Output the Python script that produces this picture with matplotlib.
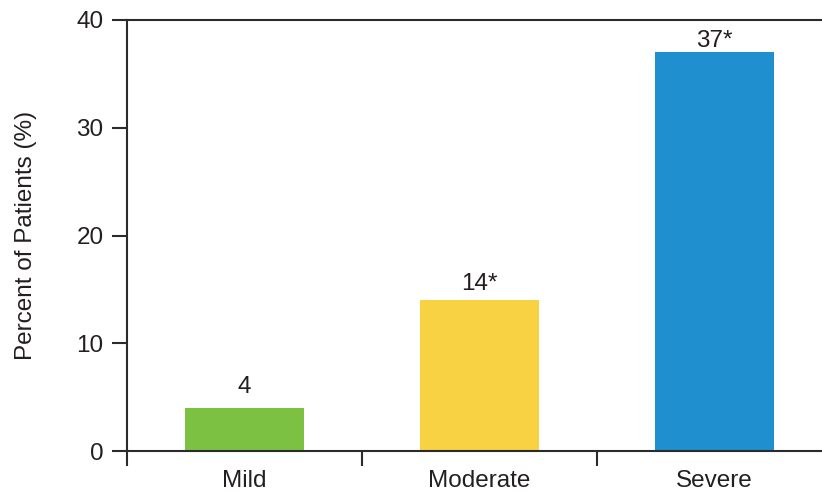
import matplotlib
matplotlib.use("Agg")
import matplotlib.pyplot as plt
import numpy as np

categories = ["Mild", "Moderate", "Severe"]
percents = [4, 14, 37]
bar_labels = ["4", "14*", "37*"]
colors = ["#7DC142", "#F9D244", "#1F8FCF"]
y_ticks = [0, 10, 20, 30, 40]

plt.rcParams["font.family"] = ["Liberation Sans", "DejaVu Sans"]
text_color = "#231F20"
line_color = "#2B2B2B"

fig = plt.figure(figsize=(8.22, 4.93), dpi=100)
# axes box in figure fractions, picked from the reference pixels
ax = fig.add_axes([127 / 822, 42 / 493, 695 / 822, 431 / 493])

x = np.arange(len(categories))
ax.bar(x, percents, width=0.505, color=colors, zorder=2)

# the value labels don't sit at the same gap above each bar in the original
gaps = [7, 3.5, 0]
for xi, val, lab, g in zip(x, percents, bar_labels, gaps):
    ax.annotate(lab, (xi, val), xytext=(0, g), textcoords="offset points",
                ha="center", va="bottom", fontsize=17.5, color=text_color)

# one category is 235 px wide
ax.set_xlim(-0.5, -0.5 + 695 / 235)
ax.set_ylim(0, 40)

ax.set_xticks([-0.5, 0.5, 1.5])
ax.set_xticklabels([])
ax.set_xticks(x, minor=True)
ax.set_xticklabels(categories, minor=True)
ax.tick_params(axis="x", which="major", direction="out", length=10.5,
               width=1.5, color=line_color)
ax.tick_params(axis="x", which="minor", length=0, pad=14,
               labelsize=17.5, labelcolor=text_color)

ax.set_yticks(y_ticks)
ax.tick_params(axis="y", direction="out", length=11, width=1.5,
               color=line_color, pad=6, labelsize=17.5, labelcolor=text_color)

for side in ["left", "bottom", "top"]:
    ax.spines[side].set_linewidth(1.5)
    ax.spines[side].set_color(line_color)
ax.spines["right"].set_visible(False)

ax.set_ylabel("Percent of Patients (%)", fontsize=17.5, color=text_color)
ax.yaxis.set_label_coords(-0.129, 0.5)

fig.savefig("out.png", dpi=100)
